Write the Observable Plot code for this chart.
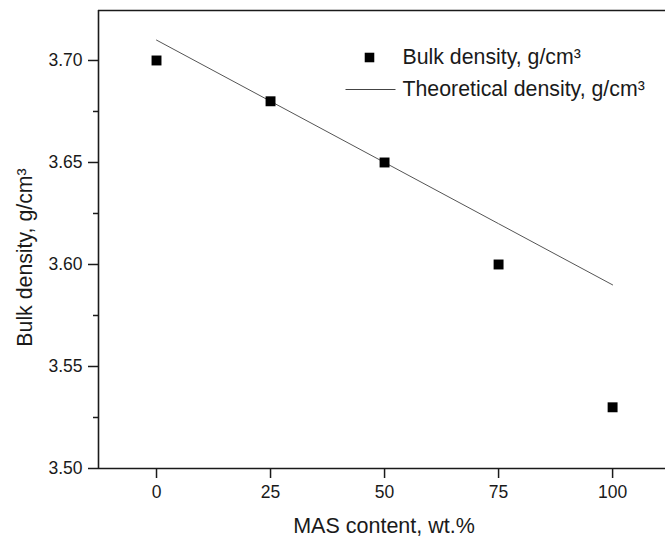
<!DOCTYPE html>
<html>
<head>
<meta charset="utf-8">
<script src="https://cdn.jsdelivr.net/npm/d3@7"></script>
<script src="https://cdn.jsdelivr.net/npm/@observablehq/plot@0.6"></script>
<style>
  html, body { margin: 0; padding: 0; background: white; }
  #chart { width: 665px; height: 539px; overflow: hidden; }
</style>
</head>
<body>
<div id="chart"></div>
<script>
// Data
const masContent = [0, 25, 50, 75, 100];
const bulkDensity = [3.70, 3.68, 3.65, 3.60, 3.53];
const theoreticalDensity = [3.71, 3.68, 3.65, 3.62, 3.59];
const xTicks = [0, 25, 50, 75, 100];
const yTicks = [3.50, 3.55, 3.60, 3.65, 3.70];
const yMinorTicks = [3.525, 3.575, 3.625, 3.675];
const xDomain = [-12.72, 111.6];
const yDomain = [3.50, 3.7245];
const legendLabels = ["Bulk density, g/cm\u00B3", "Theoretical density, g/cm\u00B3"];
const xLabel = "MAS content, wt.%";
const yLabel = "Bulk density, g/cm\u00B3";

const bulkData = masContent.map((x, i) => ({x, y: bulkDensity[i]}));
const theoData = masContent.map((x, i) => ({x, y: theoreticalDensity[i]}));

const lineSymbol = {
  draw(context) {
    context.moveTo(-25, 0);
    context.lineTo(25, 0);
  }
};

const font = "'Liberation Sans', Arial, sans-serif";
const ink = "#1a1a1a";

const chart = Plot.plot({
  width: 665,
  height: 539,
  marginLeft: 98,
  marginRight: 0,
  marginTop: 10,
  marginBottom: 71,
  style: {fontFamily: font, fontSize: "17.5px", color: ink, background: "white", overflow: "visible"},
  x: {domain: xDomain},
  y: {domain: yDomain},
  marks: [
    Plot.axisY(yTicks, {tickSize: 10, tickPadding: 6, tickFormat: d3.format(".2f"), label: null, fontSize: 17.5, strokeWidth: 1.5}),
    Plot.axisY(yMinorTicks, {tickSize: 5, text: null, label: null, strokeWidth: 1.5}),
    Plot.axisX(xTicks, {tickSize: 10, tickPadding: 7, label: null, fontSize: 17.5, strokeWidth: 1.5}),
    Plot.ruleX([xDomain[0]], {stroke: ink, strokeWidth: 1.6}),
    Plot.ruleY([yDomain[0]], {stroke: ink, strokeWidth: 1.6}),
    Plot.ruleY([yDomain[1]], {stroke: ink, strokeWidth: 1.6}),
    Plot.line(theoData, {x: "x", y: "y", stroke: "#555", strokeWidth: 1}),
    Plot.dot(bulkData, {x: "x", y: "y", symbol: "square", r: 5.6, fill: "black", stroke: "none"}),
    // legend
    Plot.dot([0], {frameAnchor: "top-left", dx: 271, dy: 47, symbol: "square", r: 5.4, fill: "black", stroke: "none"}),
    Plot.dot([0], {frameAnchor: "top-left", dx: 272, dy: 79, symbol: lineSymbol, fill: "none", stroke: "#444", strokeWidth: 1}),
    Plot.text([legendLabels[0]], {frameAnchor: "top-left", dx: 304, dy: 47, text: d => d, textAnchor: "start", lineAnchor: "middle", fontSize: 21.3, fill: ink}),
    Plot.text([legendLabels[1]], {frameAnchor: "top-left", dx: 304, dy: 79, text: d => d, textAnchor: "start", lineAnchor: "middle", fontSize: 21.3, fill: ink}),
    // axis titles
    Plot.text([xLabel], {frameAnchor: "bottom", dx: 2, dy: 58, text: d => d, textAnchor: "middle", lineAnchor: "middle", fontSize: 21.5, fill: ink}),
    Plot.text([yLabel], {frameAnchor: "left", dx: -73, dy: 18, text: d => d, rotate: -90, textAnchor: "middle", lineAnchor: "middle", fontSize: 21.3, fill: ink})
  ]
});
document.getElementById("chart").appendChild(chart);
</script>
</body>
</html>
